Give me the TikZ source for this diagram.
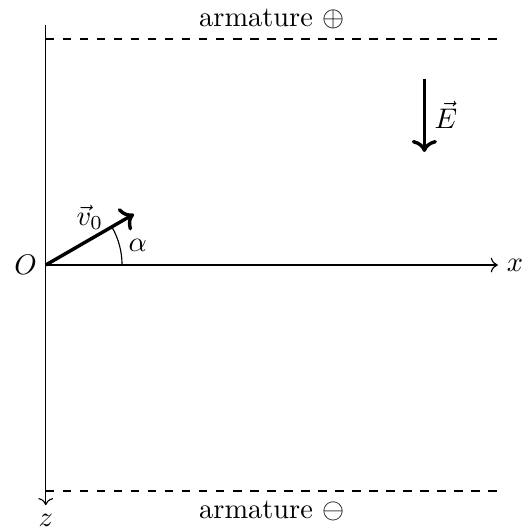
\documentclass[tikz,border=0pt]{standalone}
\usepackage{amsmath,amssymb}
\usepackage{tikz}
\usetikzlibrary{arrows.meta,positioning}

\begin{document}
\begin{tikzpicture}[x=0.7cm,y=0.7cm,ax/.style={->},vec/.style={->,very thick},plate/.style={thick,dashed},lbl/.style={inner sep=3pt}]
\useasboundingbox (-0.81,-4.69) rectangle (8.5,4.69);
\coordinate (O) at (0,0);
\coordinate (xe) at (8,0);
\coordinate (zt) at (0,4.25);
\coordinate (ze) at (0,-4.25);
\coordinate (pl) at (0,4);
\coordinate (pr) at (8,4);
\coordinate (ml) at (0,-4);
\coordinate (mr) at (8,-4);
\coordinate (v) at (30:1.8);
\coordinate (e1) at (6.7,3.3);
\coordinate (e2) at (6.7,2);
% axes
\draw[ax] (O)--(xe) node[lbl,right] (xl) {$x$};
\draw[ax] (zt)--(ze) node[lbl,below] (zl) {$z$};
\node[lbl,left] (ol) at (O) {$O$};
% plates
\draw[plate] (pl)--(pr) node[lbl,midway,above] (pp) {armature $\oplus$};
\draw[plate] (ml)--(mr) node[lbl,midway,below] (pm) {armature $\ominus$};
% field and initial speed
\draw[vec] (e1)--(e2) node[lbl,midway,right] (el) {$\vec{E}$};
\draw[vec] (O)--(v) node[lbl,midway,above] (vl) {$\vec{v}_0$};
\draw (1.35,0) arc[start angle=0,end angle=30,radius=1.35] node[lbl,pos=0.5,right] (al) {$\alpha$};
\end{tikzpicture}
\end{document}
